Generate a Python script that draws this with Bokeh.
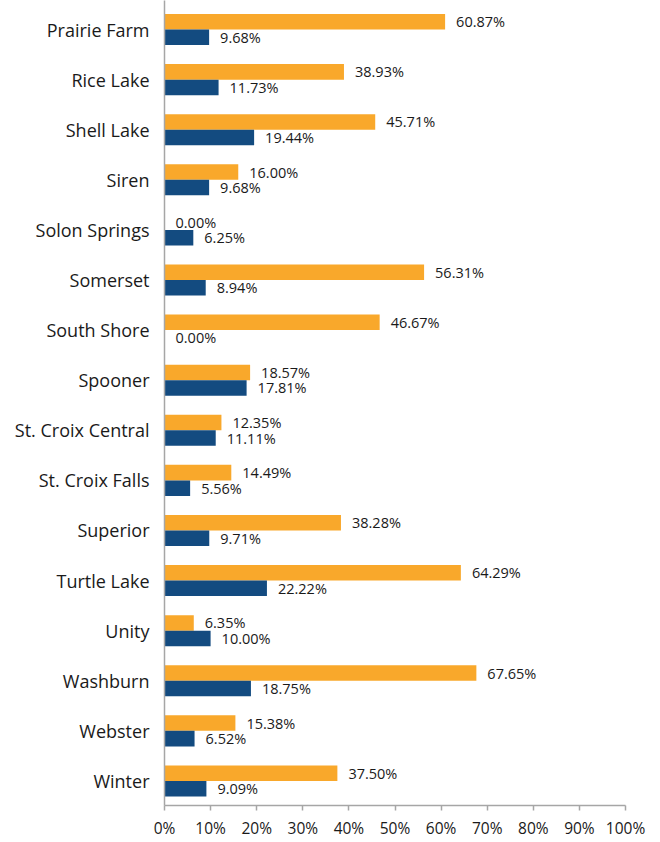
from bokeh.plotting import figure
from bokeh.models import ColumnDataSource, Range1d, FixedTicker, NumeralTickFormatter, LabelSet
from bokeh.transform import dodge
from bokeh.core.properties import value
from bokeh.embed import file_html
from bokeh.resources import INLINE

categories = ["Prairie Farm", "Rice Lake", "Shell Lake", "Siren", "Solon Springs",
              "Somerset", "South Shore", "Spooner", "St. Croix Central", "St. Croix Falls",
              "Superior", "Turtle Lake", "Unity", "Washburn", "Webster", "Winter"]
series_orange = [60.87, 38.93, 45.71, 16.00, 0.00, 56.31, 46.67, 18.57, 12.35, 14.49,
                 38.28, 64.29, 6.35, 67.65, 15.38, 37.50]
series_blue = [9.68, 11.73, 19.44, 9.68, 6.25, 8.94, 0.00, 17.81, 11.11, 5.56,
               9.71, 22.22, 10.00, 18.75, 6.52, 9.09]
x_ticks = [0, 10, 20, 30, 40, 50, 60, 70, 80, 90, 100]

ORANGE = "#F9A82B"
BLUE = "#134B80"
FONT = "Open Sans"

idx = list(range(len(categories)))
src = ColumnDataSource(dict(
    idx=idx,
    cat=categories,
    orange=[v / 100 for v in series_orange],
    blue=[v / 100 for v in series_blue],
    orange_lbl=["%.2f%%" % v for v in series_orange],
    blue_lbl=["%.2f%%" % v for v in series_blue],
))

p = figure(width=660, height=842, output_backend="svg", toolbar_location=None,
           x_range=Range1d(0, 1), y_range=Range1d(15.49, -0.58),
           min_border_left=164, min_border_right=35, min_border_top=0,
           min_border_bottom=37)
p.outline_line_color = None
p.background_fill_color = "white"
p.border_fill_color = "white"
p.xgrid.visible = False
p.ygrid.visible = False

bh = 0.31
p.hbar(y=dodge("idx", -bh / 2), right="orange", left=0, height=bh, source=src,
       fill_color=ORANGE, line_color=None)
p.hbar(y=dodge("idx", bh / 2), right="blue", left=0, height=bh, source=src,
       fill_color=BLUE, line_color=None)

for col, lbl, off in (("orange", "orange_lbl", -bh / 2), ("blue", "blue_lbl", bh / 2)):
    ls = LabelSet(x=col, y=dodge("idx", off), text=lbl, source=src, x_offset=11,
                  text_baseline="middle", text_align="left", text_font=value(FONT),
                  text_font_size="14.5px", text_color="#1a1a1a")
    p.add_layout(ls)

# x axis
xa = p.xaxis[0]
xa.ticker = FixedTicker(ticks=[t / 100 for t in x_ticks])
xa.formatter = NumeralTickFormatter(format="0%")
xa.axis_line_color = "#A6A6A6"
xa.axis_line_width = 1.5
xa.major_tick_line_color = "#A6A6A6"
xa.major_tick_line_width = 1.5
xa.major_tick_out = 5
xa.major_tick_in = 0
xa.minor_tick_line_color = None
xa.major_label_text_font = FONT
xa.major_label_text_font_size = "15.5px"
xa.major_label_text_color = "#1a1a1a"
xa.major_label_standoff = 6

# y axis
ya = p.yaxis[0]
ya.ticker = FixedTicker(ticks=idx)
ya.major_label_overrides = {i: c for i, c in zip(idx, categories)}
ya.axis_line_color = "#A6A6A6"
ya.axis_line_width = 1.5
ya.major_tick_line_color = None
ya.minor_tick_line_color = None
ya.major_label_text_font = FONT
ya.major_label_text_font_size = "18px"
ya.major_label_text_color = "#1a1a1a"
ya.major_label_standoff = 9

open("out.html", "w").write(file_html(p, INLINE))
